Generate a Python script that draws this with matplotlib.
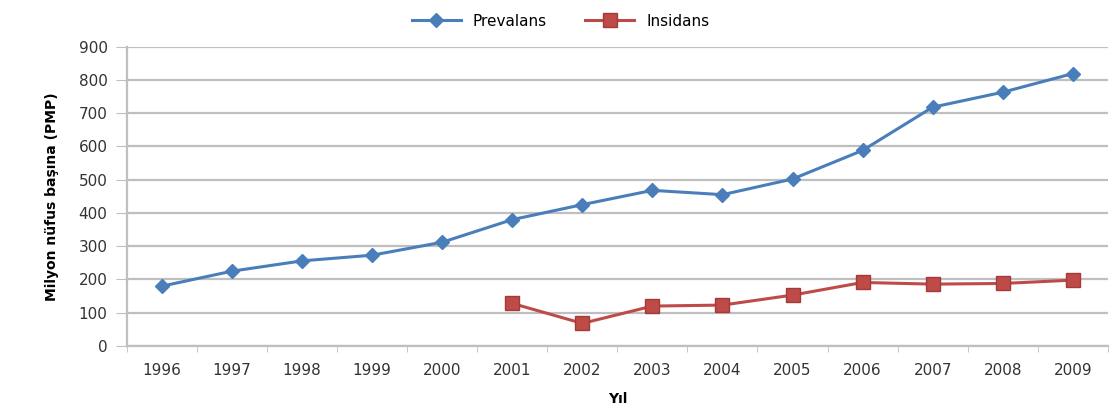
import numpy as np
import matplotlib
matplotlib.use("Agg")
import matplotlib.pyplot as plt

years = ['1996', '1997', '1998', '1999', '2000', '2001', '2002',
         '2003', '2004', '2005', '2006', '2007', '2008', '2009']
prevalans = [180, 225, 256, 273, 312, 380, 425, 468, 455, 502, 588, 718, 763, 819]
insidans_years = years[5:]
insidans = [128, 68, 120, 123, 153, 191, 186, 188, 198]

blue = '#4A7EBB'
red = '#BE4B48'
grid = '#BFBFBF'

fig = plt.figure(figsize=(11.1, 4.08), dpi=100)
ax = fig.add_axes([0.1144, 0.152, 0.8836, 0.7336])

x = np.arange(len(years))
xi = x[5:]
ax.plot(x, prevalans, color=blue, lw=2.2, marker='D', ms=7,
        markerfacecolor=blue, markeredgecolor=blue, label='Prevalans')
ax.plot(xi, insidans, color=red, lw=2.2, marker='s', ms=10,
        markerfacecolor=red, markeredgecolor='#A33B38', label='Insidans')

ax.set_xlim(-0.5, len(years) - 0.5)
ax.set_ylim(0, 900)
ax.set_yticks(np.arange(0, 901, 100))
ax.set_xticks(x)
ax.set_xticklabels(years)
ax.set_xticks(np.arange(-0.5, len(years), 1), minor=True)
ax.tick_params(axis='x', which='major', length=0, pad=12, labelsize=11, colors='#333333')
ax.tick_params(axis='x', which='minor', length=4, color=grid)
ax.tick_params(axis='y', length=8, color=grid, labelsize=11, colors='#333333', pad=6)

ax.yaxis.grid(True, color=grid, lw=1.6)
ax.set_axisbelow(True)
for s in ['top', 'right']:
    ax.spines[s].set_visible(False)
ax.spines['left'].set_color(grid)
ax.spines['left'].set_linewidth(1.6)
ax.spines['bottom'].set_color(grid)
ax.spines['bottom'].set_linewidth(1.6)

ax.set_xlabel('Yıl', fontsize=10, fontweight='bold', labelpad=10)
ax.set_ylabel('Milyon nüfus başına (PMP)', fontsize=10, fontweight='bold', labelpad=14)

fig.legend(loc='upper center', bbox_to_anchor=(0.505, 1.0), ncol=2, frameon=False,
           fontsize=11, handlelength=3.2, columnspacing=2.5)

plt.savefig('out.png', dpi=100)
plt.close()
